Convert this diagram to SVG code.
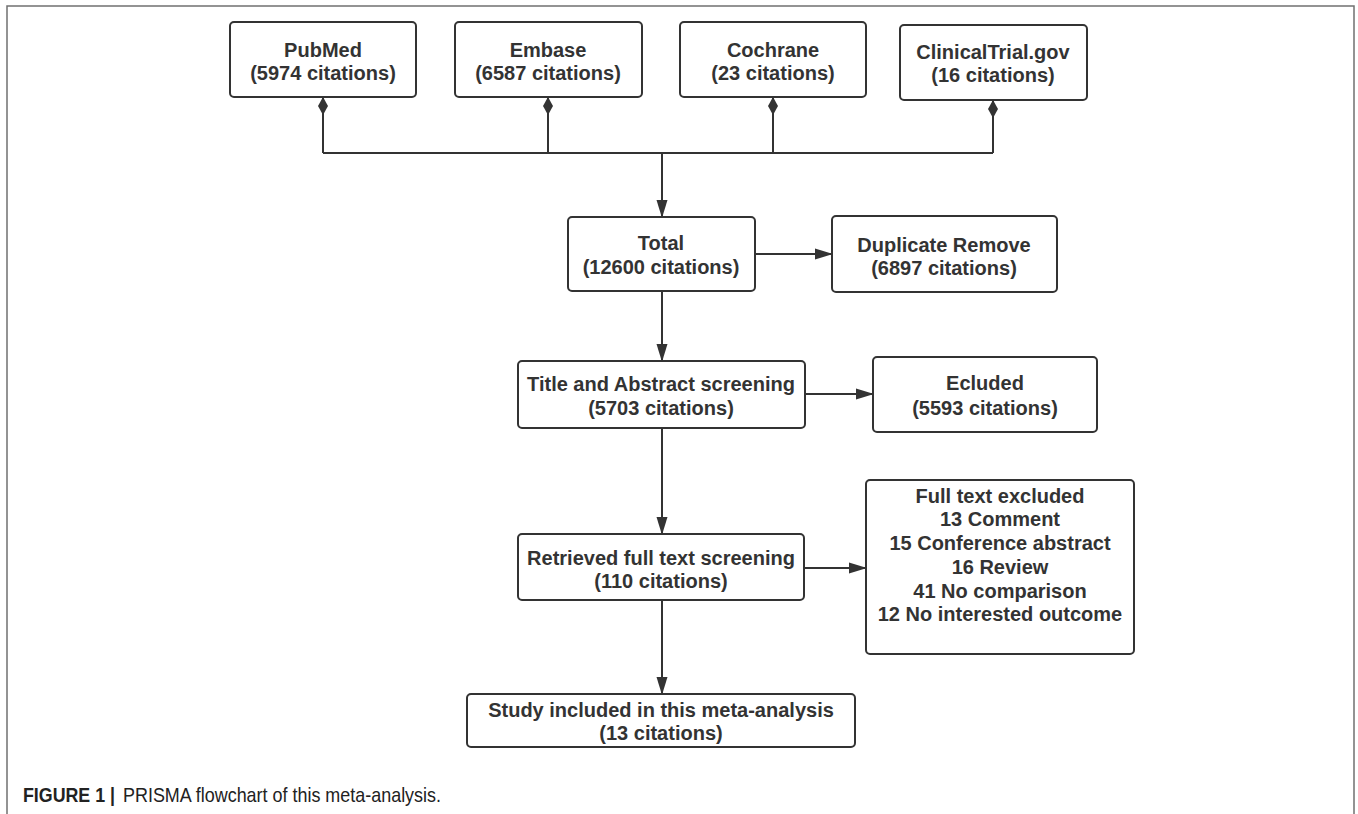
<svg xmlns="http://www.w3.org/2000/svg" width="1358" height="814" viewBox="0 0 1358 814">
<style>
.box{fill:#fff;stroke:#333;stroke-width:2}
.t{font-family:"Liberation Sans",Arial,sans-serif;font-weight:bold;font-size:20px;fill:#333;text-anchor:middle}
.c{fill:none;stroke:#333;stroke-width:2}
.cap{font-family:"Liberation Sans",Arial,sans-serif;font-size:21px;fill:#222}
</style>
<defs>
<marker id="arrow" viewBox="0 -6 18 12" markerWidth="18" markerHeight="12" refX="17" refY="0" orient="auto" markerUnits="userSpaceOnUse">
<path d="M0,-5.5 L18,0 L0,5.5 z" fill="#333"/>
</marker>
<marker id="diamond" viewBox="0 -6 18 12" markerWidth="18" markerHeight="12" refX="0" refY="0" orient="auto" markerUnits="userSpaceOnUse">
<path d="M0,0 L9,-5 L18,0 L9,5 z" fill="#333"/>
</marker>
</defs>
<rect width="1358" height="814" fill="#fff"/>
<path d="M7,814 V6 H1354 V814" fill="none" stroke="#707070" stroke-width="1.5"/>

<g id="connectors">
<path class="c" d="M323,97 V153" marker-start="url(#diamond)"/>
<path class="c" d="M548,97 V153" marker-start="url(#diamond)"/>
<path class="c" d="M773,97 V153" marker-start="url(#diamond)"/>
<path class="c" d="M993,100 V153" marker-start="url(#diamond)"/>
<path class="c" d="M323,153 H993"/>
<path class="c" d="M662,153 V217" marker-end="url(#arrow)"/>
<path class="c" d="M755,254 H832" marker-end="url(#arrow)"/>
<path class="c" d="M662,291 V361" marker-end="url(#arrow)"/>
<path class="c" d="M805,394 H873" marker-end="url(#arrow)"/>
<path class="c" d="M662,428 V534" marker-end="url(#arrow)"/>
<path class="c" d="M804,568 H866" marker-end="url(#arrow)"/>
<path class="c" d="M662,600 V694" marker-end="url(#arrow)"/>
</g>

<g id="pubmed">
<rect class="box" x="230" y="22" width="186" height="75" rx="4"/>
<text class="t" x="323" y="57">PubMed</text>
<text class="t" x="323" y="80">(5974 citations)</text>
</g>
<g id="embase">
<rect class="box" x="455" y="22" width="187" height="75" rx="4"/>
<text class="t" x="548" y="57">Embase</text>
<text class="t" x="548" y="80">(6587 citations)</text>
</g>
<g id="cochrane">
<rect class="box" x="680" y="22" width="186" height="75" rx="4"/>
<text class="t" x="773" y="57">Cochrane</text>
<text class="t" x="773" y="80">(23 citations)</text>
</g>
<g id="clinicaltrial">
<rect class="box" x="900" y="25" width="187" height="75" rx="4"/>
<text class="t" x="993" y="59">ClinicalTrial.gov</text>
<text class="t" x="993" y="82">(16 citations)</text>
</g>
<g id="total">
<rect class="box" x="568" y="217" width="187" height="74" rx="4"/>
<text class="t" x="661" y="250">Total</text>
<text class="t" x="661" y="274">(12600 citations)</text>
</g>
<g id="duplicate">
<rect class="box" x="832" y="216" width="225" height="76" rx="4"/>
<text class="t" x="944" y="252">Duplicate Remove</text>
<text class="t" x="944" y="275">(6897 citations)</text>
</g>
<g id="title-abstract">
<rect class="box" x="518" y="361" width="287" height="67" rx="4"/>
<text class="t" x="661" y="391">Title and Abstract screening</text>
<text class="t" x="661" y="415">(5703 citations)</text>
</g>
<g id="ecluded">
<rect class="box" x="873" y="357" width="224" height="75" rx="4"/>
<text class="t" x="985" y="390">Ecluded</text>
<text class="t" x="985" y="415">(5593 citations)</text>
</g>
<g id="retrieved">
<rect class="box" x="518" y="534" width="286" height="66" rx="4"/>
<text class="t" x="661" y="565">Retrieved full text screening</text>
<text class="t" x="661" y="588">(110 citations)</text>
</g>
<g id="fulltext-excluded">
<rect class="box" x="866" y="480" width="268" height="174" rx="4"/>
<text class="t" x="1000" y="503">Full text excluded</text>
<text class="t" x="1000" y="526">13 Comment</text>
<text class="t" x="1000" y="550">15 Conference abstract</text>
<text class="t" x="1000" y="574">16 Review</text>
<text class="t" x="1000" y="598">41 No comparison</text>
<text class="t" x="1000" y="621">12 No interested outcome</text>
</g>
<g id="study-included">
<rect class="box" x="467" y="694" width="388" height="53" rx="4"/>
<text class="t" x="661" y="717">Study included in this meta-analysis</text>
<text class="t" x="661" y="740">(13 citations)</text>
</g>
<text class="cap" x="23" y="802" font-weight="bold" textLength="92" lengthAdjust="spacingAndGlyphs">FIGURE 1 |</text>
<text class="cap" x="123" y="802" textLength="318" lengthAdjust="spacingAndGlyphs">PRISMA flowchart of this meta-analysis.</text>
</svg>
